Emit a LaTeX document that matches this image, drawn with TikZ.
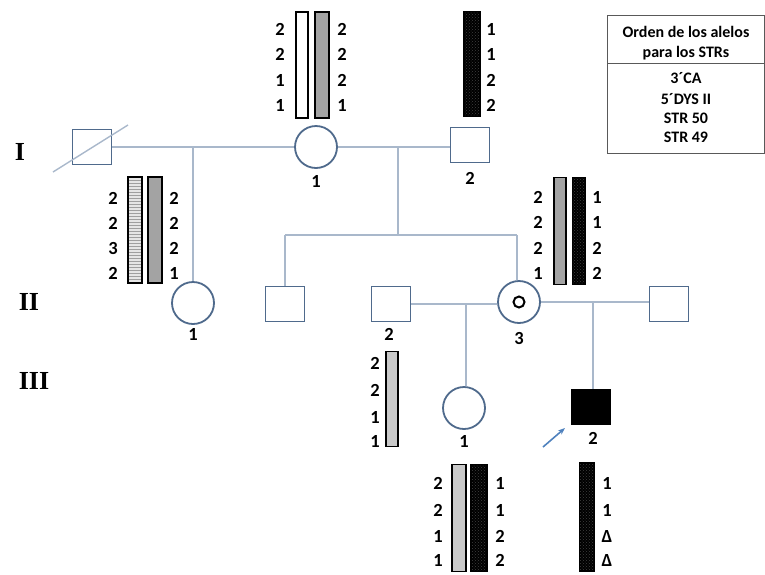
\documentclass[tikz,border=0pt]{standalone}
\usepackage{fontspec}
\setmainfont{Carlito}
\newfontfamily\genfont{Liberation Serif}
\usepackage{xcolor}
\usetikzlibrary{arrows.meta, patterns, positioning}

\definecolor{symblue}{HTML}{4F6A8C}
\definecolor{lineblue}{HTML}{A9B8CB}
\definecolor{bargray}{HTML}{A3A3A3}
\definecolor{barlight}{HTML}{C9C9C9}
\definecolor{arrowblue}{HTML}{4F81BD}

\begin{document}
\begin{tikzpicture}[x=1pt, y=-1pt,
  link/.style={draw=lineblue, line width=1.4pt},
  male/.style={draw=symblue, line width=1.8pt, fill=white, minimum width=39pt, minimum height=35pt, inner sep=0pt},
  female/.style={circle, draw=symblue, line width=1.8pt, fill=white, minimum size=42pt, inner sep=0pt},
  bar/.style={draw=black, line width=1.6pt, minimum width=12pt, inner sep=0pt},
  blackbar/.style={bar, preaction={fill=black}, pattern=crosshatch dots, pattern color=black!75},
  stripebar/.style={bar, preaction={fill=gray!20}, pattern=horizontal lines, pattern color=gray!75},
  num/.style={font=\fontsize{18.5}{20}\bfseries\selectfont, inner sep=0pt},
  gen/.style={font=\genfont\fontsize{26}{28}\bfseries\selectfont, inner sep=0pt},
  legend/.style={font=\fontsize{16}{17}\bfseries\selectfont, inner sep=0pt}]
\useasboundingbox (0,0) rectangle (765,574);

% Generations
\node[gen] (genI) at (20,152) {I};
\node[gen] (genII) at (29,302) {II};
\node[gen] (genIII) at (34,381) {III};

% Generation I
\node[male] (I1) at (92,147) {};
\draw[link] (53,172) -- (128,125);
\node[female] (I2) at (316,147) {};
\node[num] (I2lab) at (316,181) {1};
\node[male] (I3) at (470,145) {};
\node[num] (I3lab) at (470,178) {2};

% Generation II
\node[female] (II1) at (193,303) {};
\node[num] (II1lab) at (193,334) {1};
\node[male] (II2) at (285,304) {};
\node[male] (II4) at (391,304) {};
\node[num] (II4lab) at (389,334) {2};
\node[female] (II3) at (519,302) {};
\draw[black, line width=2pt] (II3.center) circle (5.5pt);
\node[num] (II3lab) at (519,338) {3};
\node[male] (II5) at (669,304) {};

% Generation III
\node[female] (III1) at (464,408) {};
\node[num] (III1lab) at (464,441) {1};
\node[male, fill=black, draw=black] (III2) at (591,407) {};
\node[num] (III2lab) at (593,438) {2};
\coordinate (pb) at (543,447);
\draw[arrowblue, line width=1.6pt, -{Stealth[length=7pt]}] (pb) -- (565,428);

% Matings and sibships
\coordinate (m1) at (193,147);
\coordinate (m2) at (398,147);
\coordinate (s1) at (398,235);
\coordinate (sl) at (285,235);
\coordinate (sr) at (517,235);
\coordinate (m3) at (466,303);
\coordinate (m4) at (593,303);
\draw[link] (I1.east) -- (I2.west);
\draw[link] (m1) -- (II1.north);
\draw[link] (I2.east) -- (I2.east -| I3.west);
\draw[link] (m2) -- (s1);
\draw[link] (sl) -- (sr);
\draw[link] (sl) -- (II2.north);
\draw[link] (sr) -- (sr |- II3.north);
\draw[link] (II4.east) -- (II4.east -| II3.west);
\draw[link] (m3) -- (m3 |- III1.north);
\draw[link] (II3.east) -- (II3.east -| II5.west);
\draw[link] (m4) -- (m4 |- III2.north);

% STRs of I-2 (mother)
\node[bar, fill=white, minimum height=106pt] (bI2a) at (302,65) {};
\node[bar, fill=bargray, minimum width=14pt, minimum height=106pt] (bI2b) at (322,65) {};
\node[num] at (280,29) {2};
\node[num] at (280,54) {2};
\node[num] at (280,80) {1};
\node[num] at (280,105) {1};
\node[num] at (342,29) {2};
\node[num] at (342,54) {2};
\node[num] at (342,80) {2};
\node[num] at (342,105) {1};

% STRs of I-3 (father)
\node[blackbar, minimum width=16pt, minimum height=105pt] (bI3) at (472,64) {};
\node[num] at (491,29) {1};
\node[num] at (491,54) {1};
\node[num] at (491,80) {2};
\node[num] at (491,105) {2};

% STRs of II-1
\node[stripebar, minimum width=14pt, minimum height=106pt] (bII1a) at (135,230) {};
\node[bar, fill=bargray, minimum width=14pt, minimum height=106pt] (bII1b) at (155,230) {};
\node[num] at (113,198) {2};
\node[num] at (113,223) {2};
\node[num] at (113,248) {3};
\node[num] at (113,273) {2};
\node[num] at (174,198) {2};
\node[num] at (174,223) {2};
\node[num] at (174,248) {2};
\node[num] at (174,273) {1};

% STRs of II-3
\node[bar, fill=bargray, minimum height=107pt] (bII3a) at (560,231) {};
\node[blackbar, minimum width=13pt, minimum height=107pt] (bII3b) at (579,231) {};
\node[num] at (538,197) {2};
\node[num] at (538,222) {2};
\node[num] at (538,248) {2};
\node[num] at (538,273) {1};
\node[num] at (597,197) {1};
\node[num] at (597,222) {1};
\node[num] at (597,248) {2};
\node[num] at (597,273) {2};

% STRs of II-4
\node[bar, fill=barlight, minimum height=95pt] (bII4) at (392,399) {};
\node[num] at (375,363) {2};
\node[num] at (375,390) {2};
\node[num] at (375,417) {1};
\node[num] at (375,441) {1};

% STRs of III-1
\node[bar, fill=barlight, minimum width=14pt, minimum height=107pt] (bIII1a) at (459,518) {};
\node[blackbar, minimum width=16pt, minimum height=107pt] (bIII1b) at (479,518) {};
\node[num] at (438,483) {2};
\node[num] at (438,510) {2};
\node[num] at (438,536) {1};
\node[num] at (438,560) {1};
\node[num] at (500,483) {1};
\node[num] at (500,510) {1};
\node[num] at (500,536) {2};
\node[num] at (500,560) {2};

% STRs of III-2
\node[blackbar, minimum width=15pt, minimum height=108pt] (bIII2) at (587,517) {};
\node[num] at (607,483) {1};
\node[num] at (607,510) {1};
\node[num] at (607,536) {Δ};
\node[num] at (607,560) {Δ};

% Legend
\draw[gray!70!black, line width=1pt] (607,15) rectangle (764,153);
\draw[gray!70!black, line width=1pt] (607,63) -- (764,63);
\node[legend] (lg1) at (686,32) {Orden de los alelos};
\node[legend] (lg2) at (686,53) {para los STRs};
\node[legend] (lg3) at (686,78) {3´CA};
\node[legend] (lg4) at (686,99) {5´DYS II};
\node[legend] (lg5) at (686,118) {STR 50};
\node[legend] (lg6) at (686,137) {STR 49};
\end{tikzpicture}
\end{document}
